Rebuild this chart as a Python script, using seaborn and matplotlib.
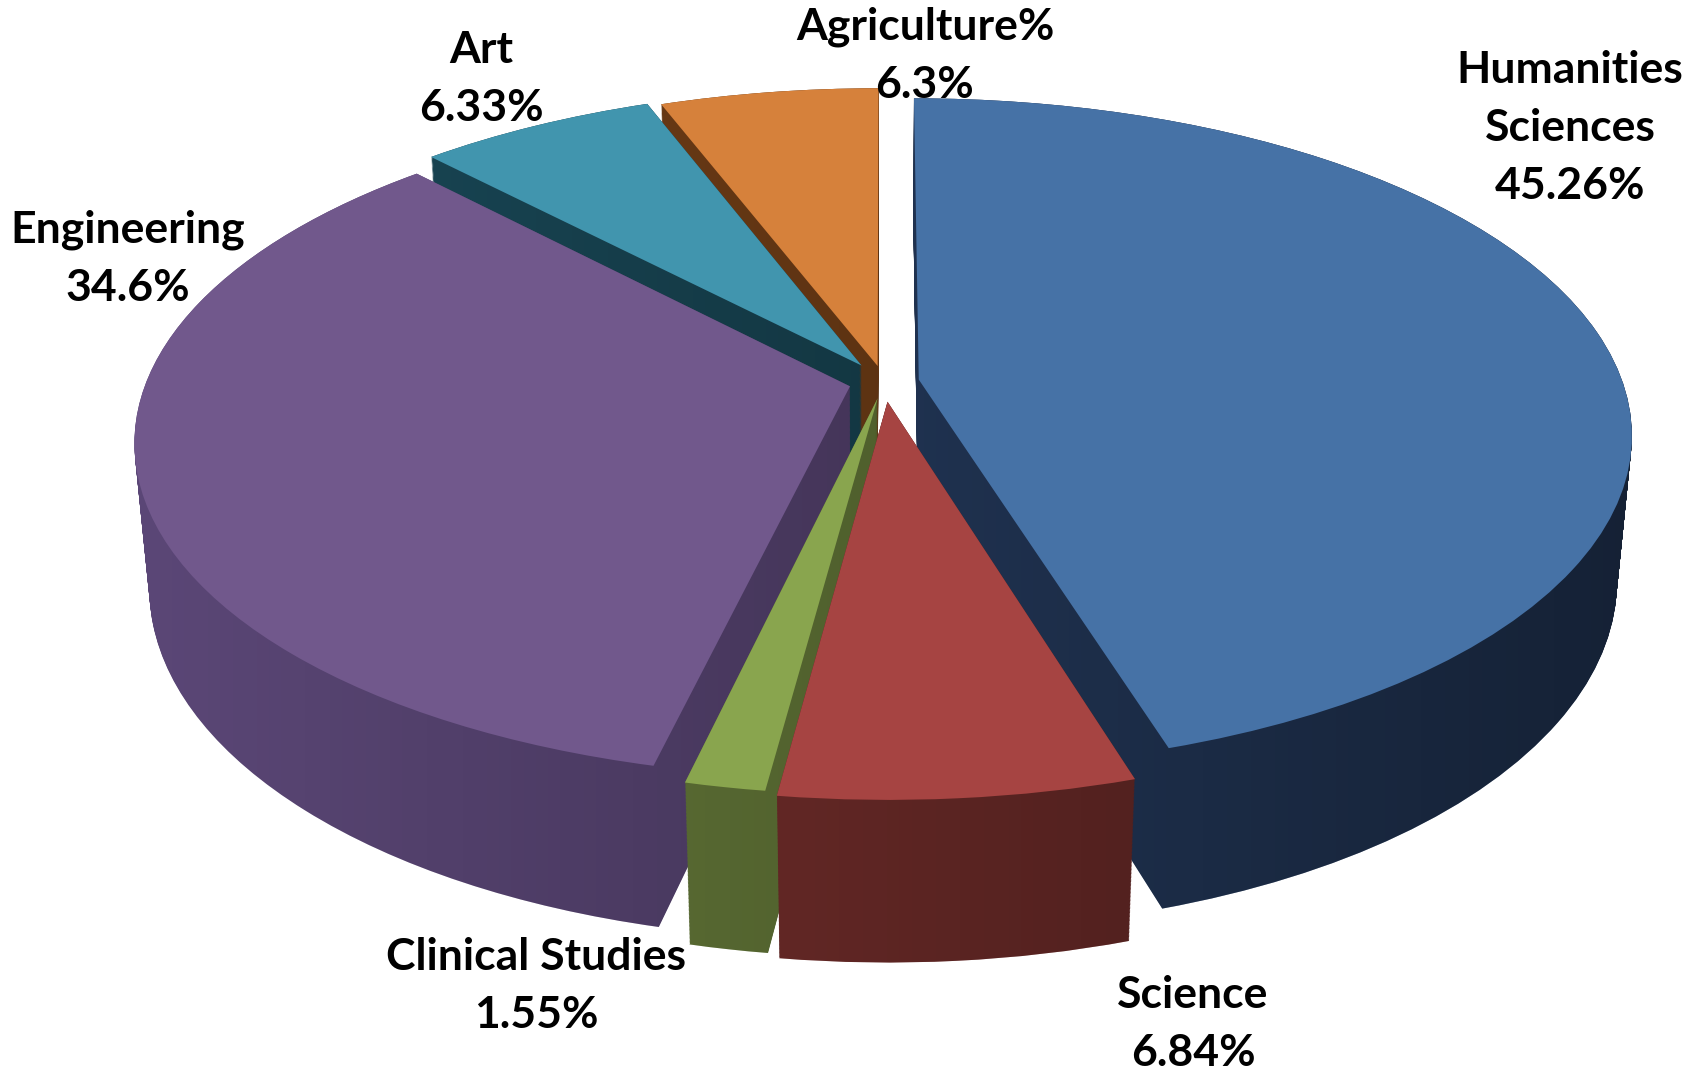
import matplotlib
matplotlib.use("Agg")
import matplotlib.pyplot as plt
from matplotlib.transforms import Transform
from matplotlib.path import Path
import seaborn as sns
import numpy as np

# ---- data ----
categories = ["Humanities\nSciences", "Science", "Clinical Studies", "Engineering", "Art", "Agriculture%"]
# percentages printed in the data labels
pct_labels = ["45.26%", "6.84%", "1.55%", "34.6%", "6.33%", "6.3%"]
# slice shares as drawn (angles, in %)
slice_shares = [45.26, 6.84, 1.55, 34.2, 6.33, 5.82]

# ---- styling ----
explode = [0.05, 0.06, 0.05, 0.05, 0.06, 0.05]
top_colors = ["#4672A6", "#A64442", "#89A54E", "#71588C", "#4195AE", "#D6813B"]
side_colors = ["#2C4670", "#823431", "#6F853F", "#5F4A7C", "#1B4D5D", "#82471A"]

W, H = 1705, 1071
cx, cy = 884, 382           # screen position of the pie centre (px)
focal, dist, elev = 3878.0, 5.51, np.deg2rad(27.7)
thickness = 0.235           # pie thickness in radius units
n_layers = 120
label_px = [(1570, 128), (1193, 1024), (536, 986), (128, 259), (481, 79), (925, 56)]
shade_left, shade_right = 0.0, 0.55   # darkening of the side walls from left to right


class PieProjection(Transform):
    """Perspective view of the pie plane lying at height z."""
    input_dims = 2
    output_dims = 2
    is_separable = False
    has_inverse = False

    def __init__(self, z):
        super().__init__()
        self.z = z

    def transform_non_affine(self, values):
        v = np.asarray(values, dtype=float)
        X, Y = v[:, 0], v[:, 1]
        up = Y * np.sin(elev) + self.z * np.cos(elev)
        dep = dist + Y * np.cos(elev) - self.z * np.sin(elev)
        return np.column_stack([focal * X / dep, focal * up / dep])


sns.set_theme(style="white")
plt.rcParams["font.family"] = ["Lato", "DejaVu Sans"]

fig = plt.figure(figsize=(W / 100, H / 100), dpi=100)
ax = fig.add_axes([0, 0, 1, 1])

wall_paths = []
for z in np.linspace(-thickness, 0, n_layers):
    proj = PieProjection(z)
    wedges, _ = ax.pie(slice_shares, explode=explode, startangle=90, counterclock=False,
                       colors=side_colors, wedgeprops=dict(linewidth=0.0))
    for w in wedges:
        w.set_transform(proj + ax.transData)
        w.set_zorder(1)
        wall_paths.append(proj.transform_path(w.get_path()))

# horizontal shading of the side walls (lighter on the left, darker on the right)
xmin, xmax = -cx, W - cx
ymin, ymax = -(H - cy), cy
shade = np.zeros((2, 400, 4))
shade[..., 3] = np.linspace(shade_left, shade_right, 400)[None, :]
im = ax.imshow(shade, extent=(xmin, xmax, ymin, ymax), aspect="auto",
               interpolation="bilinear", zorder=1.5)
im.set_clip_path(Path.make_compound_path(*wall_paths), ax.transData)

wedges, _ = ax.pie(slice_shares, explode=explode, startangle=90, counterclock=False,
                   colors=top_colors, wedgeprops=dict(linewidth=0.0))
for w in wedges:
    w.set_transform(PieProjection(0.0) + ax.transData)
    w.set_zorder(2)

ax.set_aspect("auto")
ax.set_xlim(xmin, xmax)
ax.set_ylim(ymin, ymax)
ax.axis("off")

for name, pct, (px, py) in zip(categories, pct_labels, label_px):
    fig.text(px / W, 1 - py / H, f"{name}\n{pct}", ha="center", va="center",
             fontsize=32, fontweight="bold", color="black", linespacing=1.55)

fig.savefig("out.png", dpi=100)
